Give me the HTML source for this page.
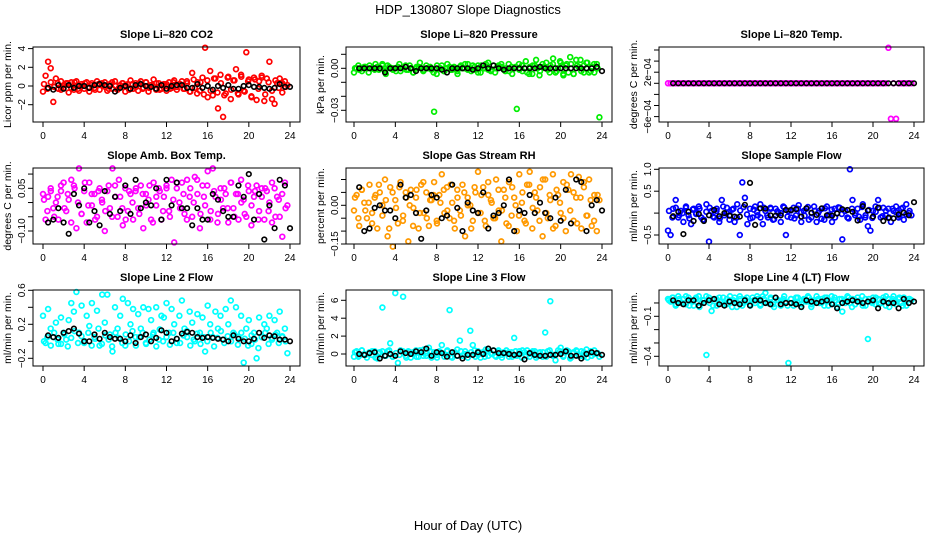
<!DOCTYPE html>
<html><head><meta charset="utf-8">
<style>
body{margin:0;background:#fff;}
svg{display:block;font-family:"Liberation Sans",sans-serif;}
</style></head>
<body>
<svg id="chart" width="936" height="540">
<text x="468" y="14" text-anchor="middle" font-size="13">HDP_130807  Slope Diagnostics</text>
<text x="468" y="530" text-anchor="middle" font-size="13">Hour of Day (UTC)</text>
</svg>
<script>
// ---- data ----
const xTicks = [0,4,8,12,16,20,24];
const co2Color = [-0.6,1.1,2.6,1.9,-1.7,0.8,-0.3,0.5,-0.2,0.3,-0.7,0.4,-0.4,0.5,-0.5,0.2,-0.3,0.4,-0.6,0.3,-0.2,0.5,-0.4,0.1,0.4,-0.5,0.2,-0.3,0.5,-0.4,0.1,0.3,-0.6,0.2,0.6,-0.3,0.3,-0.5,0.5,-0.2,0.4,-0.6,0.1,0.7,-0.4,0.3,-0.3,0.2,-0.5,0.4,-0.2,0.6,-0.4,0.2,0.5,-0.3,0.3,-0.6,1.4,-0.2,0.4,-0.5,0.9,4.1,-1.2,1.6,-1.0,0.8,-2.4,1.2,-3.3,-0.8,1.0,-1.4,0.6,1.8,-0.9,1.2,-0.5,3.6,0.7,-1.1,0.9,-1.5,0.5,1.1,-1.6,0.8,2.6,-1.4,-1.9,0.3,0.8,-0.7,0.5,0.1];
const co2Band = [0.2,-0.3,0.4,-0.1,0.3,-0.4,0.1,0.3,-0.2,0.4,-0.3,0.0,0.3,-0.2,0.1,-0.4,0.2,0.3,-0.1,-0.3,0.4,0.0,-0.2,0.3,0.1,-0.4,0.2,-0.1,0.3,-0.3,0.4,-0.2,0.0,0.3,-0.4,0.1,0.2,-0.3,0.4,-0.1,0.2,-0.3,0.5,-0.6,0.7,-0.8,0.4,-0.9,0.6,-0.5,0.8,-0.7,0.3,-1.0,0.9,-0.4,0.6,-0.8,1.0,-0.6,0.5,-1.2,0.7,-0.3,0.9,-0.9,0.4,-0.5,0.6,-0.2,0.3,-0.1];
const co2Black = [-0.2,-0.4,0.1,-0.3,0.1,-0.2,0,0,-0.2,0.1,0.2,0.1,0,-0.6,-0.2,0,-0.3,0.1,0.2,0,-0.1,-0.3,0.1,-0.3,0,0.1,0.1,-0.2,-0.2,0.2,-0.2,0,-0.4,0,-0.2,0.1,-0.3,-0.3,0,0.1,-0.1,-0.1,-0.2,-0.3,-0.2,0.2,-0.1,-0.1];
const pressColor = [-0.003,0,-0.001,0,0.001,0,0.002,0,-0.001,0.001,0,0.003,-0.002,0.002,0,-0.001,0,0.001,-0.002,0,0.002,-0.001,0,-0.003,0,0.001,0,-0.001,0.002,0,-0.001,-0.031,-0.004,0,0.002,-0.002,0,0.001,-0.001,0,-0.002,0.001,0,0.003,-0.001,0,0.002,-0.001,0.002,-0.003,0,0.003,-0.001,-0.002,0.002,0,0.001,0.003,-0.001,0,-0.002,0.001,0,-0.029,-0.001,0.002,0,-0.003,0.001,-0.004,0.002,0,-0.002,0.003,0.001,-0.001,0.002,0.003,-0.003,0,0.004,-0.004,0.002,-0.003,0.003,-0.004,0.006,0.001,-0.002,0.002,0.004,-0.003,0.001,-0.003,0.003,-0.035];
const pressBand = [0,0.002,-0.002,0.001,-0.003,0,0.003,-0.001,0.002,-0.004,0.001,0,-0.002,0.003,0,-0.001,0.002,-0.003,0.001,0.004,-0.002,0,0.001,-0.003,0.002,0,-0.002,0.003,-0.001,0.001,-0.004,0.002,0,0.003,-0.002,0.001,-0.003,0.002,0,0.004,-0.001,-0.003,0.002,0.001,-0.002,0.003,-0.004,0.001,0.003,-0.002,0.005,-0.004,0.002,0.006,-0.005,0.001,0.004,-0.003,0.007,-0.002,0.005,-0.005,0.003,0.008,-0.004,0.002,0.006,-0.003,0.004,-0.002,0.003,0];
const pressBlack = [0,0,0,0,0,-0.003,0,0,0,0.001,0,-0.002,0,0,0,0,-0.001,-0.003,0,0,0,0,-0.001,0,0.002,0,0.002,0,-0.001,0,0,0,0,0,0,0.001,0,0,0,0,0,0,0,0,0,0,0.001,-0.002];
const tempColor = [0,0,0,0,0,0,0,0,0,0,0,0,0,0,0,0,0,0,0,0,0,0,0,0,0,0,0,0,0,0,0,0,0,0,0,0,0,0,0,0,0,0,0,0,0,0,0,0,0,0,0,0,0,0,0,0,0,0,0,0,0,0,0,0,0,0,0,0,0,0,0,0,0,0,0,0,0,0,0,0,0,0,0,0,0,0,0.00064,-0.00064,0,-0.00064,0,0,0,0,0,0];
const tempBand = [];
const tempBlack = [0,0,0,0,0,0,0,0,0,0,0,0,0,0,0,0,0,0,0,0,0,0,0,0,0,0,0,0,0,0,0,0,0,0,0,0,0,0,0,0,0,0,0,0,0,0,0,0];
const ambColor = [0.03,-0.06,0.02,0.05,-0.02,0.00,-0.06,0.04,0.07,-0.03,0.01,0.08,0.06,-0.09,0.12,-0.04,0.04,-0.07,0.07,-0.01,0.03,-0.05,0.05,0.00,-0.10,0.04,-0.02,0.12,0.06,-0.05,0.02,-0.08,0.05,-0.03,0.03,-0.06,0.04,-0.02,0.06,-0.09,0.03,0.01,-0.06,0.07,-0.01,0.05,-0.06,0.02,0.06,-0.03,0.08,-0.14,0.05,0.00,0.07,-0.04,0.08,0.02,-0.05,0.09,0.03,-0.09,0.06,-0.01,0.11,-0.06,0.12,0.02,-0.04,0.05,-0.02,0.03,-0.07,0.07,-0.02,0.03,-0.06,0.08,0.01,-0.05,0.04,-0.08,0.02,0.06,-0.03,0.05,-0.06,0.04,0.00,-0.07,0.05,0.02,-0.05,-0.12,0.07,-0.01];
const ambBand = [0.01,-0.03,0.04,-0.05,0.02,0.06,-0.02,0.03,-0.07,0.05,0.00,-0.04,0.07,-0.01,0.03,-0.06,0.04,0.01,-0.03,0.06,-0.05,0.02,0.08,-0.02,-0.06,0.04,0.00,0.05,-0.04,0.03,-0.01,0.06,-0.07,0.02,0.04,-0.03,0.05,-0.05,0.01,0.07,-0.02,0.03,-0.06,0.05,0.00,0.08,-0.04,0.02,0.06,-0.03,0.04,-0.07,0.01,0.05,-0.02,0.07,-0.05,0.03,0.00,-0.04,0.06,-0.01,0.04,-0.06,0.02,0.05,-0.03,0.07,-0.05,0.01,0.03,-0.02];
const ambBlack = [-0.07,-0.06,-0.02,-0.07,-0.11,0.03,-0.01,0.05,-0.07,-0.03,-0.08,0.04,-0.04,0.02,-0.03,0.06,-0.04,0.08,-0.02,0.00,-0.01,0.05,-0.06,0.08,-0.01,0.07,-0.02,-0.02,-0.08,-0.02,-0.06,-0.06,0.03,0.01,-0.03,-0.05,-0.05,0.06,0.02,0.10,-0.06,0.03,-0.13,-0.01,-0.09,0.08,0.06,-0.09];
const rhColor = [-0.02,0.04,-0.08,0.06,0.01,-0.05,0.08,-0.03,0.03,-0.09,0.05,0.00,0.10,-0.12,0.07,-0.16,0.02,-0.07,0.09,-0.04,0.05,-0.14,0.06,-0.01,0.03,-0.09,0.08,-0.03,0.05,-0.08,0.02,0.09,-0.06,0.04,0.12,-0.03,0.07,-0.05,0.01,-0.09,0.06,-0.02,0.08,-0.12,0.03,0.00,-0.06,0.05,0.13,-0.03,0.07,-0.08,0.04,0.02,-0.05,0.10,-0.02,-0.14,0.06,-0.07,0.09,-0.04,0.03,-0.10,0.12,0.01,-0.06,0.08,0.13,-0.09,0.05,-0.02,0.07,-0.12,0.10,-0.05,0.02,0.12,-0.08,0.04,-0.03,0.09,-0.10,0.06,0.12,-0.06,0.03,0.11,-0.09,0.07,-0.04,0.10,-0.08,0.04,-0.10,0.02];
const rhBand = [0.03,-0.05,0.06,-0.02,0.01,-0.07,0.04,0.08,-0.04,0.02,-0.09,0.05,-0.01,0.07,-0.06,0.03,0.00,-0.08,0.06,-0.03,0.09,-0.05,0.02,0.04,-0.07,0.01,0.06,-0.02,0.08,-0.06,0.03,-0.04,0.05,0.00,-0.09,0.07,-0.03,0.04,-0.06,0.09,0.01,-0.05,0.06,-0.02,0.03,-0.08,0.07,0.00,-0.04,0.05,-0.07,0.08,-0.01,0.03,-0.06,0.10,-0.03,0.04,-0.09,0.06,0.01,-0.05,0.08,-0.02,0.05,-0.07,0.03,0.09,-0.04,0.02,-0.06,0.04];
const rhBlack = [0.07,-0.10,-0.09,-0.01,0.00,-0.02,-0.02,-0.05,0.08,0.03,0.04,-0.03,-0.13,-0.02,0.04,0.03,-0.05,-0.04,0.08,-0.01,-0.10,0.01,-0.02,-0.03,0.05,-0.09,-0.04,-0.03,0.00,0.10,-0.10,-0.02,-0.03,0.04,-0.03,0.01,-0.03,-0.05,0.03,-0.06,0.06,-0.07,0.10,0.09,-0.10,0.00,0.02,-0.02];
const flowColor = [-0.4,-0.5,0.1,0.3,-0.1,0.05,-0.2,0.12,-0.05,-0.25,0.1,0.0,0.15,-0.1,-0.15,0.2,-0.65,0.05,-0.1,0.1,-0.2,0.3,-0.05,0.12,-0.15,0.08,-0.2,0.2,-0.5,0.7,0.35,-0.25,0.1,-0.1,0.15,-0.05,0.2,-0.25,0.05,-0.1,0.12,-0.15,0.1,0.0,-0.2,0.15,-0.5,0.05,-0.1,0.12,-0.05,0.18,-0.2,0.05,0.1,-0.15,0.0,0.15,-0.2,0.05,0.1,-0.15,0.15,-0.05,-0.2,0.1,0.0,0.12,-0.6,0.05,-0.1,1.0,0.3,-0.05,0.1,-0.15,0.2,-0.1,-0.3,-0.4,0.05,0.15,0.3,-0.1,0.12,-0.05,0.1,-0.2,0.05,0.15,-0.1,0.1,-0.15,0.2,0.0,-0.05];
const flowBand = [0.05,-0.1,0.12,-0.05,0.0,0.15,-0.12,0.08,-0.02,0.1,-0.15,0.03,0.12,-0.08,0.05,-0.12,0.15,0.0,-0.05,0.1,-0.1,0.06,0.14,-0.03,-0.12,0.08,0.02,-0.1,0.12,-0.05,0.1,-0.14,0.04,0.0,0.13,-0.08,0.06,-0.12,0.1,0.02,-0.06,0.14,-0.1,0.05,0.0,-0.13,0.11,-0.04,0.08,-0.1,0.13,-0.02,0.05,-0.12,0.1,0.0,-0.08,0.14,-0.05,0.07,-0.11,0.03,0.12,-0.07,0.05,-0.1,0.1,0.02,-0.06,0.12,-0.03,0.05];
const flowBlack = [-0.07,0.03,-0.48,0.03,-0.18,-0.02,-0.18,-0.05,0.07,-0.07,0.00,-0.06,-0.08,-0.08,0.19,0.69,-0.27,0.11,0.10,-0.05,-0.06,-0.05,0.07,0.07,0.09,-0.08,0.11,0.01,-0.04,0.11,-0.05,-0.06,-0.01,0.09,0.07,0.03,-0.17,0.16,0.06,-0.08,0.12,-0.18,-0.11,-0.12,-0.03,0.01,-0.05,0.25];
const line2Color = [0.3,-0.02,0.38,0.15,0.05,0.22,-0.03,0.28,0.1,0.02,0.25,0.45,0.35,0.58,0.1,0.42,-0.02,0.3,0.18,0.45,0.05,0.36,-0.05,0.55,0.22,0.55,0.08,-0.12,0.4,0.15,0.3,0.5,-0.05,0.45,0.2,0.38,0.05,0.32,0.15,0.4,-0.02,0.38,0.25,0.1,0.4,0.02,0.3,0.28,0.45,0.1,0.38,0.2,-0.02,0.3,0.48,0.15,0.05,0.35,0.22,0.0,0.32,0.1,0.28,-0.12,0.42,0.2,0.05,0.35,0.15,0.3,0.02,0.38,0.2,0.48,0.1,0.4,0.05,0.3,-0.25,0.15,0.25,-0.03,0.1,-0.2,0.28,0.05,0.2,0.15,0.3,0.02,0.25,0.1,0.35,0.05,0.15,-0.14];
const line2Band = [0.0,0.05,-0.05,0.1,0.02,-0.03,0.08,-0.06,0.04,0.12,-0.02,0.06,0.0,0.1,-0.05,0.03,0.15,-0.03,0.07,0.02,-0.06,0.1,0.04,-0.02,0.08,0.0,0.12,-0.05,0.05,0.1,-0.03,0.02,0.08,-0.06,0.14,0.0,0.05,-0.04,0.1,0.03,-0.02,0.07,0.12,-0.05,0.02,0.09,-0.03,0.05,0.0,0.1,-0.06,0.04,0.12,-0.02,0.06,0.0,0.08,-0.04,0.1,0.03,-0.05,0.07,0.02,-0.08,0.05,0.1,-0.03,0.04,0.08,-0.02,0.06,0.0];
const line2Black = [0.07,0.05,0.04,0.1,0.12,0.15,0.09,0.0,0.0,0.08,0.03,0.1,0.05,0.03,0.03,0.0,0.07,-0.02,0.05,0.08,0.0,0.04,0.13,0.1,0.0,0.03,0.09,0.11,0.1,0.05,0.04,0.05,0.04,0.03,0.02,0.0,0.07,0.03,0.0,0.0,0.03,0.1,0.04,0.07,0.06,0.02,0.02,0.0];
const line3Color = [-0.3,0.3,-0.2,0.4,0,-0.4,0.2,-0.1,0.3,-0.5,0.2,5.2,-0.2,0.3,1.2,-0.3,6.8,-1.0,0.4,6.4,-0.2,0.3,-0.4,0.2,0.4,-0.3,0.1,0.5,-0.2,0.7,-0.4,0.2,-0.1,0.3,1.0,-0.3,0.3,4.9,-0.4,0.2,0.5,1.5,-0.2,0.3,0,2.6,1.0,-0.3,0.3,-0.4,0.2,0.5,-0.2,0.1,0.4,-0.3,0.3,-0.1,0.2,0.4,-0.3,0.2,1.8,-0.2,0.3,-0.4,0.2,0.4,-0.3,0.1,0.3,-0.2,0.2,-0.3,2.4,0.3,5.9,-0.2,-0.7,0.4,0.7,-0.3,0.2,0.3,-0.4,0.2,0.4,-0.2,0.3,-0.3,0.5,0.1,-0.2,0.4,0.0,-0.3];
const line3Band = [0.2,-0.3,0.4,-0.1,0.0,0.3,-0.4,0.1,0.3,-0.2,0.4,-0.3,0.1,-0.1,0.3,-0.4,0.2,0.0,-0.3,0.4,-0.2,0.1,0.3,-0.1,-0.4,0.2,0.0,0.4,-0.3,0.1,-0.2,0.3,0.0,-0.4,0.2,0.4,-0.1,0.1,-0.3,0.3,0.0,-0.2,0.4,-0.4,0.1,0.2,-0.3,0.3,-0.1,0.4,-0.2,0.0,0.3,-0.4,0.1,0.2,-0.3,0.4,-0.1,0.0,0.3,-0.2,0.4,-0.5,0.1,0.3,-0.2,0.2,-0.4,0.3,0.0,0.1];
const line3Black = [0.0,-0.1,0.1,0.2,-0.5,-0.2,0.0,-0.2,0.3,0.1,0.0,0.3,0.2,0.6,-0.2,0.2,0.1,-0.3,0.2,-0.2,-0.5,-0.1,-0.1,0.2,0.0,0.6,0.4,0.1,0.1,0.0,-0.1,0.0,-0.6,0.1,-0.1,-0.2,-0.2,-0.1,-0.1,0.0,0.3,-0.2,-0.2,-0.5,0.0,0.2,0.1,-0.1];
const line4Color = [0.03,0.01,0.04,-0.02,0.05,0.0,0.03,-0.01,0.04,0.02,-0.02,0.03,0.05,0.0,0.02,-0.39,0.04,-0.06,0.03,-0.02,0.04,0.01,-0.01,0.03,0.02,-0.03,0.04,0.0,0.05,-0.02,0.03,0.01,-0.01,0.04,0.0,0.03,-0.02,0.05,0.075,0.0,0.03,-0.01,0.04,0.02,-0.02,0.03,0.01,-0.45,0.03,-0.02,0.04,0.0,-0.03,0.03,0.01,0.04,-0.01,0.02,0.05,0.0,0.03,-0.02,0.04,0.01,0.0,0.04,-0.03,0.03,-0.065,0.02,0.05,0.0,0.03,-0.01,0.04,0.02,-0.02,0.03,-0.27,0.01,0.04,-0.01,0.03,0.0,0.04,-0.02,0.03,0.01,0.05,-0.01,0.03,0.0,0.04,-0.02,0.03,0.02];
const line4Band = [0.02,0.04,-0.01,0.03,0.0,0.05,-0.02,0.01,0.04,-0.03,0.02,0.05,0.0,-0.02,0.03,0.01,0.04,-0.01,0.05,0.02,-0.03,0.03,0.0,0.04,-0.02,0.02,0.05,-0.01,0.03,0.0,0.04,-0.03,0.02,0.01,0.05,-0.02,0.03,0.0,0.04,-0.01,0.02,0.05,-0.03,0.01,0.03,0.0,0.04,-0.02,0.05,0.02,-0.01,0.03,0.0,0.04,-0.03,0.02,0.01,0.05,-0.02,0.03,0.0,0.04,-0.01,0.02,0.05,-0.03,0.03,0.01,0.04,-0.02,0.02,0.03];
const line4Black = [0.02,0.0,-0.01,0.02,0.02,-0.02,0.0,0.02,0.03,-0.01,-0.02,0.01,0.0,-0.01,0.02,-0.02,0.02,0.02,0.0,-0.01,0.04,-0.01,0.0,0.0,-0.01,-0.03,0.02,0.01,0.0,0.01,0.02,-0.01,-0.04,0.0,0.01,0.02,0.01,0.0,0.01,0.02,-0.04,0.01,0.0,0.0,-0.04,0.03,0.0,0.01];

// ---- layout ----
const NS = "http://www.w3.org/2000/svg";
const svg = document.getElementById('chart');
const cols = [{l:33,r:300,x0:43,x24:290},{l:346,r:612,x0:354,x24:602},{l:659,r:924,x0:668,x24:914}];
const rows = [{t:47,b:122},{t:168,b:244},{t:290,b:366}];
const panels = [
 {name:'co2',title:'Slope Li\u2013820 CO2',yl:'Licor ppm per min.',col:0,row:0,color:'#ff0000',c:co2Color,b:co2Band,k:co2Black,v1:0,p1:86,v2:2,p2:67.3,ticks:[-2,0,2,4],labels:['\u22122','0','2','4']},
 {name:'pressure',title:'Slope Li\u2013820 Pressure',yl:'kPa per min.',col:1,row:0,color:'#00ee00',c:pressColor,b:pressBand,k:pressBlack,v1:0,p1:68.3,v2:-0.03,p2:110.3,ticks:[0.01,0,-0.01,-0.02,-0.03],labels:['','0.00','','','\u22120.03']},
 {name:'li820-temp',title:'Slope Li\u2013820 Temp.',yl:'degrees C per min.',col:2,row:0,color:'#ff00ff',c:tempColor,b:tempBand,k:tempBlack,v1:0,p1:83.3,v2:0.0002,p2:72.2,ticks:[0.0006,0.0004,0.0002,0,-0.0002,-0.0004,-0.0006],labels:['','','2e\u221204','','','','\u22126e\u221204']},
 {name:'amb-box-temp',title:'Slope Amb. Box Temp.',yl:'degrees C per min.',col:0,row:1,color:'#ff00ff',c:ambColor,b:ambBand,k:ambBlack,v1:0.05,p1:188.3,v2:-0.10,p2:231,ticks:[0.1,0.05,0,-0.05,-0.1],labels:['','0.05','','','\u22120.10']},
 {name:'gas-stream-rh',title:'Slope Gas Stream RH',yl:'percent per min.',col:1,row:1,color:'#ff9900',c:rhColor,b:rhBand,k:rhBlack,v1:0,p1:205.3,v2:-0.15,p2:244,ticks:[0.1,0.05,0,-0.05,-0.1,-0.15],labels:['','','0.00','','','\u22120.15']},
 {name:'sample-flow',title:'Slope Sample Flow',yl:'ml/min per min.',col:2,row:1,color:'#0000ff',c:flowColor,b:flowBand,k:flowBlack,v1:1.0,p1:169.3,v2:-0.5,p2:235,ticks:[1,0.5,0,-0.5],labels:['1.0','0.5','','\u22120.5']},
 {name:'line2-flow',title:'Slope Line 2 Flow',yl:'ml/min per min.',col:0,row:2,color:'#00ffff',c:line2Color,b:line2Band,k:line2Black,v1:0.6,p1:290.3,v2:-0.2,p2:358.3,ticks:[0.6,0.4,0.2,0,-0.2],labels:['0.6','','0.2','','\u22120.2']},
 {name:'line3-flow',title:'Slope Line 3 Flow',yl:'ml/min per min.',col:1,row:2,color:'#00ffff',c:line3Color,b:line3Band,k:line3Black,v1:6,p1:300.3,v2:0,p2:354,ticks:[6,4,2,0],labels:['6','4','2','0']},
 {name:'line4-flow',title:'Slope Line 4 (LT) Flow',yl:'ml/min per min.',col:2,row:2,color:'#00ffff',c:line4Color,b:line4Band,k:line4Black,v1:-0.1,p1:316.3,v2:-0.4,p2:356.3,ticks:[0,-0.1,-0.2,-0.3,-0.4],labels:['','\u22120.1','','','\u22120.4']}
];
function mk(tag, attrs, parent){const e=document.createElementNS(NS,tag);for(const k in attrs)e.setAttribute(k,attrs[k]);(parent||svg).appendChild(e);return e;}

panels.forEach(p=>{
  const C=cols[p.col], R=rows[p.row];
  const xs=h=>C.x0+(C.x24-C.x0)*h/24;
  const ys=v=>p.p1+(v-p.v1)*(p.p2-p.p1)/(p.v2-p.v1);
  const g=mk('g',{});
  
  
  const t=mk('text',{x:(C.l+C.r)/2,y:R.t-9,'text-anchor':'middle','font-size':'11','font-weight':'bold'},g);
  t.textContent=p.title;
  
  
  const yl=mk('text',{transform:`translate(${C.l-22},${(R.t+R.b)/2}) rotate(-90)`,'text-anchor':'middle','font-size':'10.5'},g);
  yl.textContent=p.yl;
  
  
  const nb=p.b.length;
  p.b.forEach((v,i)=>{
    const h=0.1+i*23.8/nb;
    const c=mk('circle',{cx:xs(h).toFixed(1),cy:ys(v).toFixed(1),r:2.4,fill:'none',stroke:p.color,'stroke-width':1.7},g);
    
    
  });
  const n=p.c.length;
  p.c.forEach((v,i)=>{
    const h=i*24/n;
    const c=mk('circle',{cx:xs(h).toFixed(1),cy:ys(v).toFixed(1),r:2.4,fill:'none',stroke:p.color,'stroke-width':1.7},g);
    
    
  });
  const m=p.k.length;
  p.k.forEach((v,i)=>{
    const h=0.5+i*23.5/(m-1);
    const c=mk('circle',{cx:xs(h).toFixed(1),cy:ys(v).toFixed(1),r:2.3,fill:'none',stroke:'#000','stroke-width':1.6},g);
    
    
  });
  const box=mk('rect',{x:C.l,y:R.t,width:C.r-C.l,height:R.b-R.t,fill:'none',stroke:'#000','stroke-width':1},g);
  
  
  xTicks.forEach(h=>{
    mk('line',{x1:xs(h),x2:xs(h),y1:R.b,y2:R.b+5,stroke:'#000'},g);
    const tl=mk('text',{x:xs(h),y:R.b+17,'text-anchor':'middle','font-size':'10'},g);
    tl.textContent=h;
    
    
  });
  p.ticks.forEach((v,i)=>{
    const y=ys(v);
    mk('line',{x1:C.l-5,x2:C.l,y1:y,y2:y,stroke:'#000'},g);
    if(p.labels[i]){
      const tl=mk('text',{transform:`translate(${C.l-8},${y}) rotate(-90)`,'text-anchor':'middle','font-size':'10'},g);
      tl.textContent=p.labels[i];
      
      
    }
  });
});
</script>
</body></html>
